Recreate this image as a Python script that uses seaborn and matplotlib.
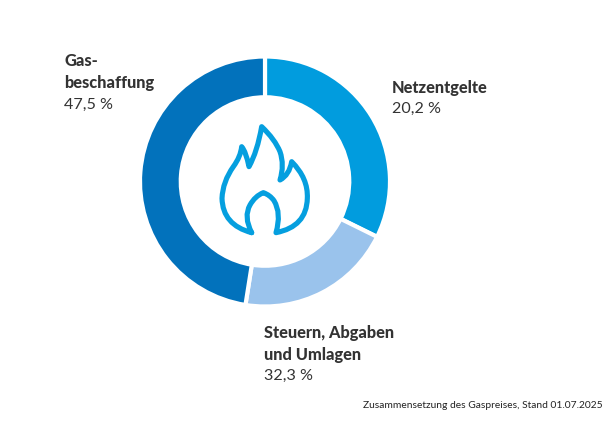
import matplotlib
matplotlib.use("Agg")
import matplotlib.pyplot as plt
from matplotlib.path import Path
from matplotlib.patches import PathPatch
import seaborn as sns

# Slice shares as drawn, clockwise from the top
slice_names = ["Steuern, Abgaben und Umlagen", "Netzentgelte", "Gasbeschaffung"]
slice_values = [32.3, 20.2, 47.5]
slice_colors = ["#019CDE", "#9AC3EC", "#0272BC"]

label_titles = ["Netzentgelte", "Steuern, Abgaben\nund Umlagen", "Gas-\nbeschaffung"]
label_values = ["20,2 %", "32,3 %", "47,5 %"]
caption = "Zusammensetzung des Gaspreises, Stand 01.07.2025"

sns.set_theme(style="white")
plt.rcParams["font.family"] = ["Lato", "DejaVu Sans"]

W, H = 611, 421
fig = plt.figure(figsize=(W / 100, H / 100), dpi=100, facecolor="white")

cx, cy, R = 265, 181.5, 125.0
ax = fig.add_axes([(cx - 1.1 * R) / W, 1 - (cy + 1.1 * R) / H, 2.2 * R / W, 2.2 * R / H])
sns.despine(ax=ax, left=True, bottom=True)
ax.pie(slice_values, colors=sns.color_palette(slice_colors), startangle=90, counterclock=False,
       radius=1, wedgeprops=dict(width=0.326, edgecolor="white", linewidth=3.0))
ax.set_xlim(-1.1, 1.1)
ax.set_ylim(-1.1, 1.1)
ax.set_aspect("equal")

# Overlay in pixel units for the decorative icon and the text
ov = fig.add_axes([0, 0, 1, 1])
ov.set_xlim(0, W)
ov.set_ylim(H, 0)
ov.axis("off")
ov.patch.set_alpha(0)

def z(x, y):
    return (200 + x / 3, 110 + y / 3)

M, C = Path.MOVETO, Path.CURVE3
flame = [
    (M, 155, 368), (C, 68, 345), (C, 66, 265), (C, 68, 215), (C, 100, 170),
    (C, 122, 140), (C, 125, 110),
    (C, 138, 125), (C, 147, 170), (C, 172, 125), (C, 185, 50),
    (C, 225, 88), (C, 240, 125), (C, 254, 165), (C, 240, 210),
    (C, 268, 195), (C, 275, 155), (C, 325, 205), (C, 322, 265),
    (C, 320, 350), (C, 228, 368),
    (C, 245, 310), (C, 222, 272), (C, 210, 255), (C, 190, 248),
    (C, 165, 258), (C, 150, 285), (C, 130, 320), (C, 155, 368),
]
codes = [c for c, _, _ in flame]
verts = [z(x, y) for _, x, y in flame]
ov.add_patch(PathPatch(Path(verts, codes), fill=False, edgecolor="#059FDF", linewidth=3.7,
                       joinstyle="round", capstyle="round"))

dark = "#333333"
def block(x, y_title, title, y_val, val):
    ov.text(x, y_title, title, fontsize=11.8, fontweight="black", color=dark, va="baseline", ha="left", linespacing=1.45)
    ov.text(x, y_val, val, fontsize=11.6, color=dark, va="baseline", ha="left")

block(391.5, 92.5, label_titles[0], 113, label_values[0])
block(263.5, 360, label_titles[1], 380, label_values[1])
block(64.5, 88, label_titles[2], 109, label_values[2])
ov.text(603, 408, caption, fontsize=7.4, color="#222222", ha="right", va="baseline")

fig.savefig("out.png", dpi=100)
